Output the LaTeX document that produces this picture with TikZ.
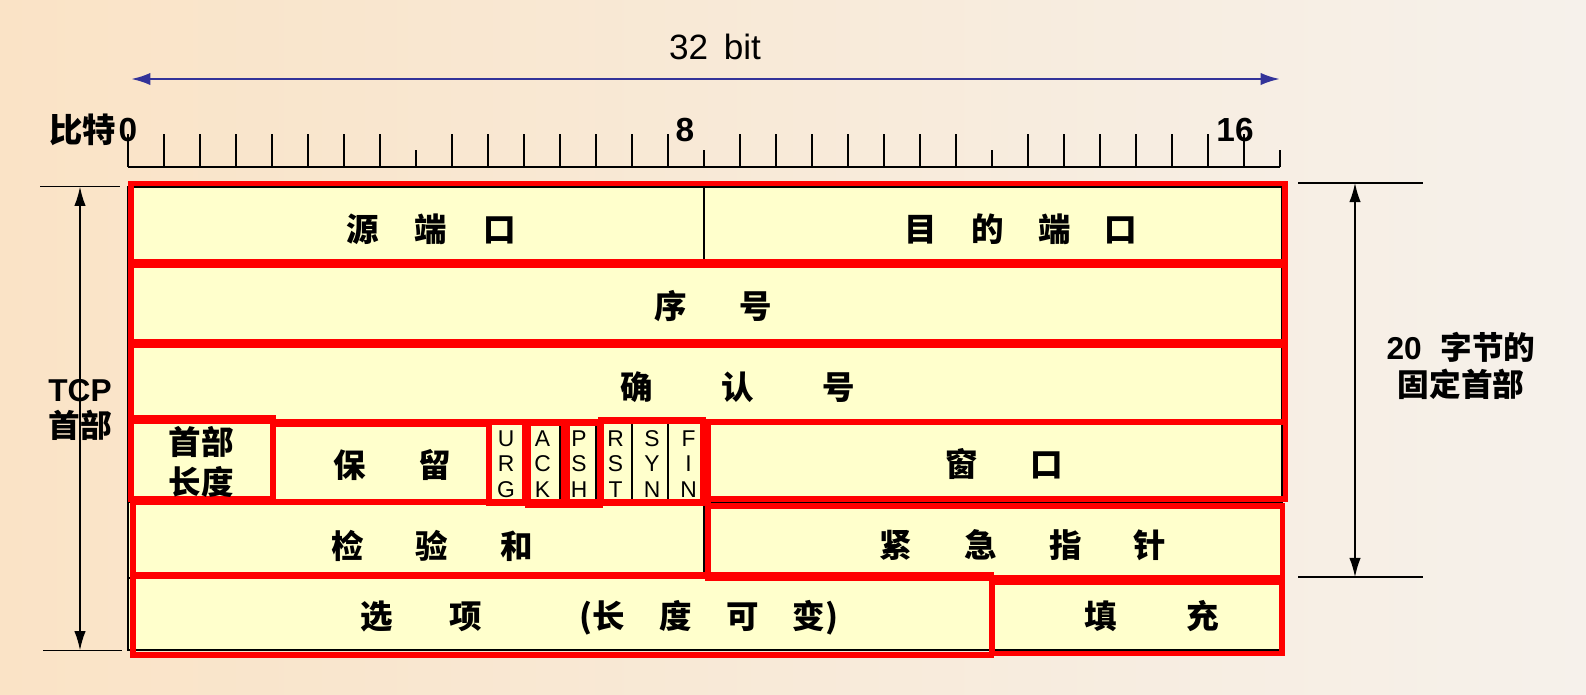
\documentclass[tikz,border=0pt]{standalone}
\usepackage{fontspec}
\setmainfont{Liberation Sans}
\newfontfamily\cjk{Noto Sans CJK SC}
\usetikzlibrary{arrows.meta, positioning}
\definecolor{bgleft}{RGB}{250,227,198}
\definecolor{bgright}{RGB}{246,241,235}
\definecolor{cellfill}{RGB}{255,255,204}
\definecolor{framered}{RGB}{255,0,0}
\definecolor{bitblue}{RGB}{51,51,153}
\tikzset{
  field/.style={inner sep=0pt, font=\fontsize{18.5}{23}\selectfont\cjk\bfseries},
  flag/.style={inner sep=0pt, align=center, font=\fontsize{13}{14.6}\selectfont},
  rulelabel/.style={inner sep=0pt, font=\fontsize{19}{20}\selectfont\bfseries},
  note/.style={inner sep=0pt, align=center, font=\fontsize{18}{21}\selectfont\bfseries},
  redbox/.style={draw=framered, line width=3.1pt},
  cellline/.style={draw=black, line width=1.1pt},
  tick/.style={line width=1.1pt},
  dimline/.style={line width=1.1pt},
  dimarrow/.style={line width=1.1pt, {Latex[length=11pt,width=6.5pt]}-{Latex[length=11pt,width=6.5pt]}},
  bitarrow/.style={line width=1.4pt, color=bitblue, {Latex[length=11pt,width=7pt]}-{Latex[length=11pt,width=7pt]}},
}

\begin{document}
\begin{tikzpicture}[x=0.02cm, y=-0.02cm]
  \useasboundingbox (0,0) rectangle (1586,694);
  \shade[left color=bgleft, right color=bgright] (0,0) rectangle (1586,694);

  % 32 bit width
  \node (width) [font=\fontsize{20}{22}\selectfont, inner sep=0pt] at (715,47) {32\hspace{0.45em}bit};
  \coordinate (wl) at (131,79);
  \coordinate (wr) at (1280,79);
  \draw [bitarrow] (wl) -- (wr);

  % ruler
  \draw [tick] (128,167) -- (1280,167);
  \foreach \k in {0,...,32}{
    \pgfmathsetmacro\ttop{(mod(\k,8)==0 && \k>0) ? 150 : 133.5}
    \draw [tick] ({128+36*\k},167) -- ({128+36*\k},\ttop);
  }
  \node (bit0)  [rulelabel] at (128,130) {0};
  \node (bitw)  [rulelabel, left=1pt of bit0] {\cjk 比特};
  \node (bit8)  [rulelabel] at (685,130) {8};
  \node (bit16) [rulelabel] at (1235,130) {16};

  % header table
  \draw [cellline, fill=cellfill] (128,187) rectangle (1282,650);
  \draw [cellline] (128,263.5) -- (1282,263.5) (128,343.5) -- (1282,343.5)
                   (128,421) -- (1282,421) (128,502) -- (1282,502) (128,578) -- (1282,578);
  \draw [cellline] (704,187) -- (704,263.5) (704,502) -- (704,578) (992,578) -- (992,650);
  \foreach \x in {272,488,524,560,596,632,668,704}
    \draw [cellline] (\x,421) -- (\x,502);

  % red frames
  \draw [redbox] (131,183.5) rectangle (1285,262);
  \draw [redbox] (131,265) rectangle (1285,342);
  \draw [redbox] (131,345) rectangle (1285,421.5);
  \draw [redbox] (131,417.5) rectangle (273,499);
  \draw [redbox] (273,424.5) rectangle (489,502);
  \draw [redbox] (489,422) rectangle (524.5,503.5);
  \draw [redbox] (528,423.5) rectangle (563.5,505);
  \draw [redbox] (567,423.5) rectangle (600,505);
  \draw [redbox] (601,419.5) rectangle (703,503);
  \draw [redbox] (708,422) rectangle (1285.5,499);
  \draw [redbox] (133,502) rectangle (708,576);
  \draw [redbox] (708,506) rectangle (1282.5,578);
  \draw [redbox] (133,575) rectangle (991.5,655);
  \draw [redbox] (992,582) rectangle (1282,653.5);

  % fields
  \node (srcport) [field] at (431,229) {源\hspace{1.1em}端\hspace{1.1em}口};
  \node (dstport) [field] at (1021,229) {目\hspace{1.05em}的\hspace{1.05em}端\hspace{1.05em}口};
  \node (seqno)   [field] at (713,306) {序\hspace{1.6em}号};
  \node (ackno)   [field] at (738,387) {确\hspace{2.1em}认\hspace{2.1em}号};
  \node (hlen)    [field, align=center] at (201,462) {首部\\长度};
  \node (rsv)     [field] at (392,465) {保\hspace{1.6em}留};
  \foreach \nm/\a/\b/\c [count=\i from 0] in {urg/U/R/G, ack/A/C/K, psh/P/S/H, rst/R/S/T, syn/S/Y/N, fin/F/I/N}
    \node (\nm) [flag] at ({506+36.5*\i},464) {\a\\\b\\\c};
  \node (window)  [field] at (1004,464) {窗\hspace{1.6em}口};
  \node (chksum)  [field] at (432,546) {检\hspace{1.6em}验\hspace{1.6em}和};
  \node (urgptr)  [field] at (1023,545) {紧\hspace{1.6em}急\hspace{1.6em}指\hspace{1.6em}针};
  \node (options) [field, anchor=west] at (360,618) {选\hspace{1.75em}项\hspace{3em}(长\hspace{1.05em}度\hspace{1.05em}可\hspace{1.05em}变)};
  \node (padding) [field] at (1152,616) {填\hspace{2.15em}充};

  % TCP header height
  \coordinate (lt) at (80,186.5);
  \coordinate (lb) at (80,650.5);
  \draw [dimline] (40,186.5) -- (120,186.5) (43,650.5) -- (122,650.5);
  \draw [dimarrow] (lt) -- (lb);
  \node (tcphdr) [note] at (80,410) {TCP\\{\cjk 首部}};

  % fixed part height
  \coordinate (rt) at (1355,182.7);
  \coordinate (rb) at (1355,577.3);
  \draw [dimline] (1298,182.7) -- (1423,182.7) (1298,577.3) -- (1423,577.3);
  \draw [dimarrow] (rt) -- (rb);
  \node (fixhdr) [note] at (1461,366) {20\hspace{0.6em}{\cjk 字节的}\\{\cjk 固定首部}};
\end{tikzpicture}
\end{document}
